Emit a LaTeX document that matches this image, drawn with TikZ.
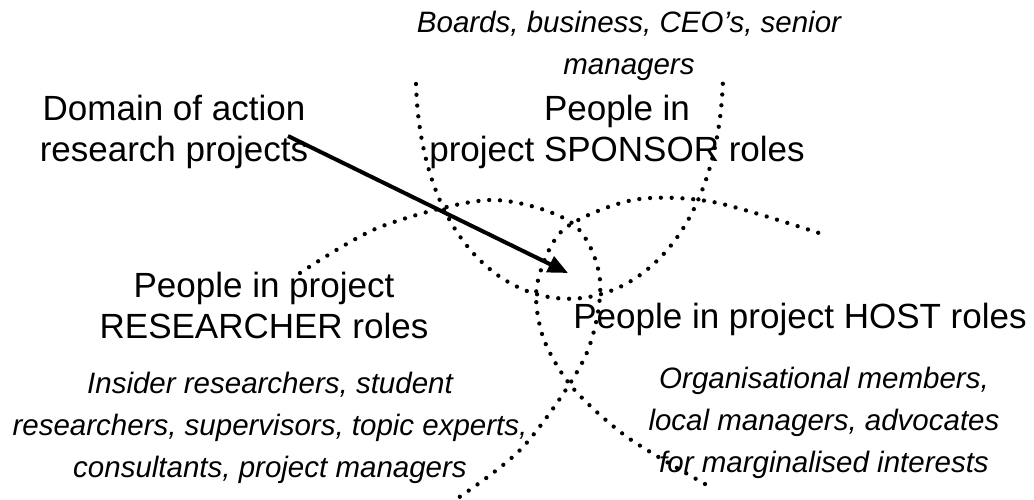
\documentclass[tikz,border=0pt]{standalone}
\usepackage{fontspec}
\setmainfont{Liberation Sans}
\usetikzlibrary{arrows.meta}

\begin{document}
\begin{tikzpicture} [x = 1pt, y = -1pt,
  dots/.style = {line width = 4.3pt, line cap = round, dash pattern = on 0pt off 10.8pt},
  role/.style = {font = \fontsize{35}{41}\selectfont, align = center, inner sep = 0pt, anchor = base},
  members/.style = {font = \fontsize{29.5}{42}\selectfont\itshape, align = center, inner sep = 0pt, anchor = base},
  pointer/.style = {line width = 4pt, -{Triangle[length = 20pt, width = 17pt]}}]
\useasboundingbox (0, 0) rectangle (1034, 500);
\draw[dots] (416, 84) .. controls (425, 370) and (713, 372) .. (723, 80);
\draw[dots] plot[smooth] coordinates {(300, 273) (380, 227) (490, 200) (572, 223) (600, 280) (585, 357) (523, 447) (455, 500)};
\draw[dots] plot[smooth] coordinates {(705, 484) (627, 437) (572, 387) (543, 337) (537, 285) (563, 230) (633, 200) (713, 202) (822, 234)};
\node[members] (sponsorwho) at (629, 75) {Boards, business, CEO’s, senior\\managers};
\node[role] (sponsor) at (617, 162) {People in\\project SPONSOR roles};
\node[role] (domain) at (174, 162) {Domain of action\\research projects};
\node[role] (researcher) at (264, 338) {People in project\\RESEARCHER roles};
\node[members] (researcherwho) at (270, 477) {Insider researchers, student\\researchers, supervisors, topic experts,\\consultants, project managers};
\node[role] (host) at (800, 328) {People in project HOST roles};
\node[members] (hostwho) at (824, 472) {Organisational members,\\local managers, advocates\\for marginalised interests};
\coordinate (tail) at (288, 136);
\coordinate (core) at (568, 273);
\draw[pointer] (tail) -- (core);
\end{tikzpicture}
\end{document}
